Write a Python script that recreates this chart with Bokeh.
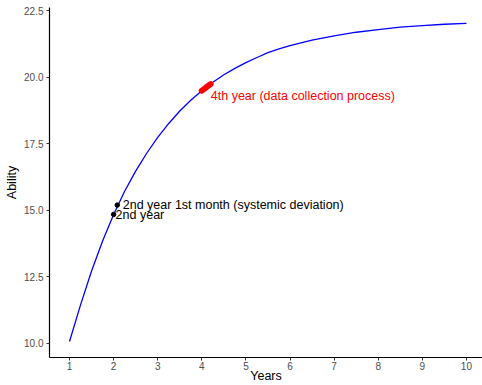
from bokeh.plotting import figure
from bokeh.models import FixedTicker, PrintfTickFormatter, Range1d
from bokeh.core.properties import value
from bokeh.embed import file_html
from bokeh.resources import INLINE

# curve
years = [1.0, 1.25, 1.5, 1.75, 2.0, 2.25, 2.5, 2.75, 3.0, 3.25, 3.5, 3.75, 4.0,
         4.25, 4.5, 4.75, 5.0, 5.25, 5.5, 5.75, 6.0, 6.5, 7.0, 7.5, 8.0, 8.5,
         9.0, 9.5, 10.0]
ability = [10.07, 11.45, 12.72, 13.85, 14.85, 15.72, 16.48, 17.15, 17.75, 18.27,
           18.74, 19.14, 19.50, 19.82, 20.10, 20.34, 20.56, 20.75, 20.93, 21.07,
           21.20, 21.40, 21.56, 21.70, 21.80, 21.89, 21.95, 22.00, 22.03]

# marked points
pt_years = [2.0, 2.083]
pt_ability = [14.85, 15.20]
pt_labels = ["2nd year", "2nd year 1st month (systemic deviation)"]

# data collection segment (4th year)
seg_years = [4.0, 4.1, 4.2]
seg_ability = [19.50, 19.63, 19.75]
seg_label = "4th year (data collection process)"

x_ticks = [1, 2, 3, 4, 5, 6, 7, 8, 9, 10]
y_ticks = [10.0, 12.5, 15.0, 17.5, 20.0, 22.5]

FONT = "Liberation Sans"

p = figure(width=482, height=385, output_backend="svg", toolbar_location=None,
           x_range=Range1d(0.546, 10.365), y_range=Range1d(9.47, 22.63),
           min_border_left=49, min_border_right=0, min_border_top=7, min_border_bottom=10)
p.outline_line_color = None
p.xgrid.visible = False
p.ygrid.visible = False
p.background_fill_color = "white"
p.border_fill_color = "white"

p.line(years, ability, line_color="blue", line_width=1.3)
p.line(seg_years, seg_ability, line_color="red", line_width=6, line_cap="round")
p.scatter(pt_years, pt_ability, size=4.5, color="black")

p.text([pt_years[0]], [pt_ability[0]], text=[pt_labels[0]], x_offset=2, y_offset=1,
       text_font=value(FONT), text_font_size="12.5px", text_color="black",
       text_align="left", text_baseline="middle")
p.text([pt_years[1]], [pt_ability[1]], text=[pt_labels[1]], x_offset=5.5, y_offset=0,
       text_font=value(FONT), text_font_size="12.5px", text_color="black",
       text_align="left", text_baseline="middle")
p.text([seg_years[0]], [seg_ability[0]], text=[seg_label], x_offset=9, y_offset=5,
       text_font=value(FONT), text_font_size="12.5px", text_color="red",
       text_align="left", text_baseline="middle")

for ax in (p.xaxis[0], p.yaxis[0]):
    ax.axis_line_color = "black"
    ax.axis_line_width = 1.2
    ax.major_tick_line_color = "#333333"
    ax.major_tick_in = 0
    ax.major_tick_out = 3
    ax.minor_tick_line_color = None
    ax.major_label_text_font = FONT
    ax.major_label_text_font_size = "10px"
    ax.major_label_text_color = "#4D4D4D"
    ax.axis_label_text_font = FONT
    ax.axis_label_text_font_size = "12.5px"
    ax.axis_label_text_font_style = "normal"
    ax.axis_label_text_color = "black"
    ax.major_label_standoff = 3
    ax.axis_label_standoff = 2

p.xaxis[0].major_label_standoff = 1
p.xaxis[0].axis_label_standoff = -4

p.xaxis.axis_label = "Years"
p.yaxis.axis_label = "Ability"
p.xaxis.ticker = FixedTicker(ticks=x_ticks)
p.yaxis.ticker = FixedTicker(ticks=y_ticks)
p.yaxis.formatter = PrintfTickFormatter(format="%.1f")

open("out.html", "w").write(file_html(p, INLINE))
